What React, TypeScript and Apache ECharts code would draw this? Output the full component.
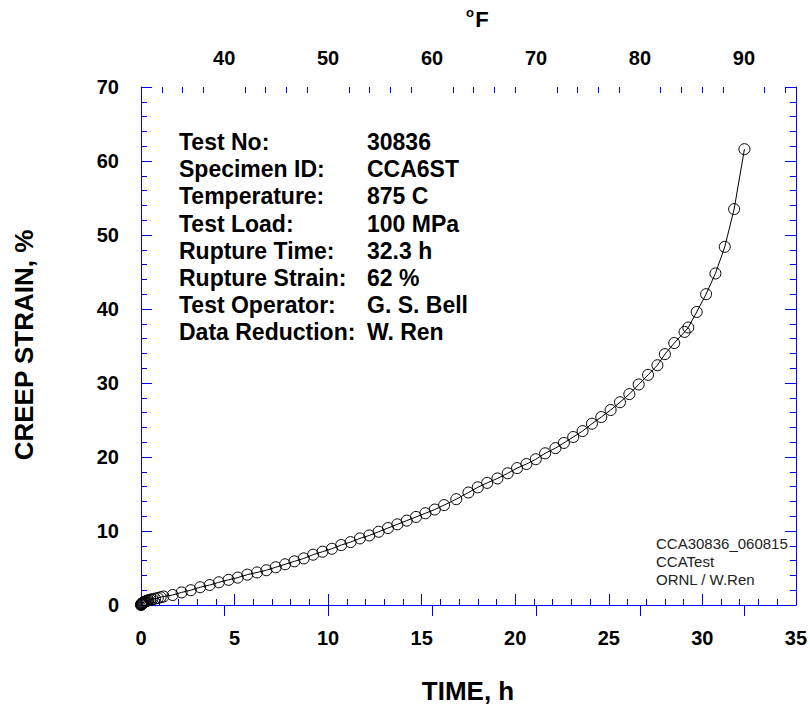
import React, { useEffect, useRef } from "react";
import * as echarts from "echarts";

// Creep curve data (time in h, creep strain in %)
const timeH: number[] = [
  0, 0.01, 0.02, 0.03, 0.05, 0.07, 0.09, 0.12, 0.15, 0.18, 0.22, 0.26, 0.3, 0.35, 0.4, 0.5, 0.6, 0.75, 0.9, 1.05, 1.2,
  1.69, 2.17, 2.66, 3.16, 3.67, 4.16, 4.68, 5.17, 5.68, 6.2, 6.7, 7.2, 7.7, 8.2, 8.7, 9.2, 9.7, 10.2, 10.7, 11.2,
  11.7, 12.2, 12.7, 13.2, 13.7, 14.2, 14.7, 15.2, 15.7, 16.2, 16.85, 17.5, 18.0, 18.5, 19.05, 19.6, 20.1, 20.6,
  21.1, 21.6, 22.15, 22.6, 23.1, 23.6, 24.1, 24.6, 25.1, 25.6, 26.1, 26.6, 27.1, 27.6, 28.0, 28.5, 29.05, 29.25,
  29.7, 30.2, 30.7, 31.2, 31.7, 32.25,
];
const strainPct: number[] = [
  0, 0.05, 0.1, 0.14, 0.2, 0.24, 0.28, 0.32, 0.36, 0.4, 0.45, 0.5, 0.55, 0.6, 0.65, 0.72, 0.78, 0.86, 0.95, 1.05, 1.15,
  1.35, 1.7, 2.0, 2.4, 2.7, 3.07, 3.4, 3.7, 4.1, 4.4, 4.7, 5.1, 5.5, 5.9, 6.3, 6.8, 7.2, 7.6, 8.1, 8.5,
  9.0, 9.4, 9.9, 10.4, 10.9, 11.4, 11.9, 12.4, 12.9, 13.5, 14.3, 15.2, 15.9, 16.5, 17.1, 17.8, 18.5, 19.05,
  19.7, 20.5, 21.2, 21.9, 22.7, 23.5, 24.5, 25.4, 26.35, 27.4, 28.5, 29.8, 31.1, 32.4, 33.9, 35.4, 36.9, 37.5,
  39.6, 42.0, 44.8, 48.4, 53.5, 61.6,
];

// Top axis (°F) tick values
const fMajorTicks: number[] = [40, 50, 60, 70, 80, 90];
const fMinorTicks: number[] = [34, 36, 38, 42, 44, 46, 48, 52, 54, 56, 58, 62, 64, 66, 68, 72, 74, 76, 78, 82, 84, 86, 88, 92, 94];

const infoLabels: string[] = [
  "Test No:", "Specimen ID:", "Temperature:", "Test Load:", "Rupture Time:", "Rupture Strain:", "Test Operator:", "Data Reduction:",
];
const infoValues: string[] = ["30836", "CCA6ST", "875 C", "100 MPa", "32.3 h", "62 %", "G. S. Bell", "W. Ren"];
const footerNotes: string[] = ["CCA30836_060815", "CCATest", "ORNL / W.Ren"];

const FONT = '"Liberation Sans", Arial, Helvetica, sans-serif';
const BLUE = "#0000ff";

export default function App() {
  const ref = useRef<HTMLDivElement>(null);
  useEffect(() => {
    if (!ref.current) return;
    const chart = echarts.init(ref.current, undefined, { renderer: "svg" });
    const data = timeH.map((t, i) => [t, strainPct[i]]);
    const labelStyle = { color: "#000", fontFamily: FONT, fontWeight: "bold" as const, fontSize: 20 };
    const lineStyle = { color: BLUE, width: 1 };

    const graphics: any[] = [];
    infoLabels.forEach((lab, i) => {
      const y = 142 + i * 27.2;
      graphics.push({
        type: "text", x: 179, y,
        style: { text: lab, fill: "#000", font: `bold 23px ${FONT}`, textAlign: "left", textVerticalAlign: "middle" },
      });
      graphics.push({
        type: "text", x: 367, y,
        style: { text: infoValues[i], fill: "#000", font: `bold 23px ${FONT}`, textAlign: "left", textVerticalAlign: "middle" },
      });
    });
    footerNotes.forEach((n, i) => {
      graphics.push({
        type: "text", x: 656, y: 543.5 + i * 18,
        style: { text: n, fill: "#222", font: `15px ${FONT}`, textAlign: "left", textVerticalAlign: "middle" },
      });
    });
    graphics.push({
      type: "text", x: 24, y: 345, rotation: Math.PI / 2,
      style: { text: "CREEP STRAIN, %", fill: "#000", font: `bold 26px ${FONT}`, textAlign: "center", textVerticalAlign: "middle" },
    });
    graphics.push({
      type: "text", x: 468, y: 691,
      style: { text: "TIME, h", fill: "#000", font: `bold 26px ${FONT}`, textAlign: "center", textVerticalAlign: "middle" },
    });
    graphics.push({
      type: "text", x: 470, y: 12,
      style: { text: "o", fill: "#000", font: `bold 13px ${FONT}`, textAlign: "center", textVerticalAlign: "middle" },
    });
    graphics.push({
      type: "text", x: 482, y: 19.5,
      style: { text: "F", fill: "#000", font: `bold 22px ${FONT}`, textAlign: "center", textVerticalAlign: "middle" },
    });

    chart.setOption({
      animation: false,
      backgroundColor: "#fff",
      grid: { left: 141, right: 13, top: 87, bottom: 103, containLabel: false },
      xAxis: [
        {
          type: "value", position: "bottom", min: 0, max: 35, interval: 5,
          axisLine: { show: true, lineStyle },
          axisTick: { show: true, inside: true, length: 11, lineStyle },
          minorTick: { show: true, splitNumber: 5, length: 6, lineStyle },
          splitLine: { show: false }, minorSplitLine: { show: false },
          axisLabel: { ...labelStyle, margin: 23 },
        },
        {
          type: "value", position: "top", min: 32, max: 95, offset: 0,
          axisLine: { show: true, lineStyle },
          axisTick: { show: true, inside: true, length: 11, lineStyle, customValues: fMajorTicks },
          splitLine: { show: false },
          axisLabel: { ...labelStyle, margin: 19, customValues: fMajorTicks },
        },
        {
          type: "value", position: "top", min: 32, max: 95, offset: 0,
          axisLine: { show: false },
          axisTick: { show: true, inside: true, length: 6, lineStyle, customValues: fMinorTicks },
          splitLine: { show: false },
          axisLabel: { show: false },
        },
      ],
      yAxis: [
        {
          type: "value", position: "left", min: 0, max: 70, interval: 10,
          axisLine: { show: true, lineStyle },
          axisTick: { show: true, inside: true, length: 11, lineStyle },
          minorTick: { show: true, splitNumber: 5, length: 6, lineStyle },
          splitLine: { show: false }, minorSplitLine: { show: false },
          axisLabel: { ...labelStyle, margin: 22 },
        },
        {
          type: "value", position: "right", min: 0, max: 70, interval: 10,
          axisLine: { show: true, lineStyle },
          axisTick: { show: true, inside: true, length: 11, lineStyle },
          minorTick: { show: true, splitNumber: 5, length: 6, lineStyle },
          splitLine: { show: false }, minorSplitLine: { show: false },
          axisLabel: { show: false },
        },
      ],
      series: [
        {
          type: "line", xAxisIndex: 0, yAxisIndex: 0, data,
          symbol: "circle", symbolSize: 11, showAllSymbol: true,
          lineStyle: { color: "#000", width: 1 },
          itemStyle: { color: "transparent", borderColor: "#000", borderWidth: 1 },
          emphasis: { disabled: true },
          z: 3,
        },
      ],
      graphic: graphics,
    });
    return () => chart.dispose();
  }, []);
  return <div ref={ref} style={{ position: "fixed", left: 0, top: 0, width: 810, height: 708 }} />;
}
